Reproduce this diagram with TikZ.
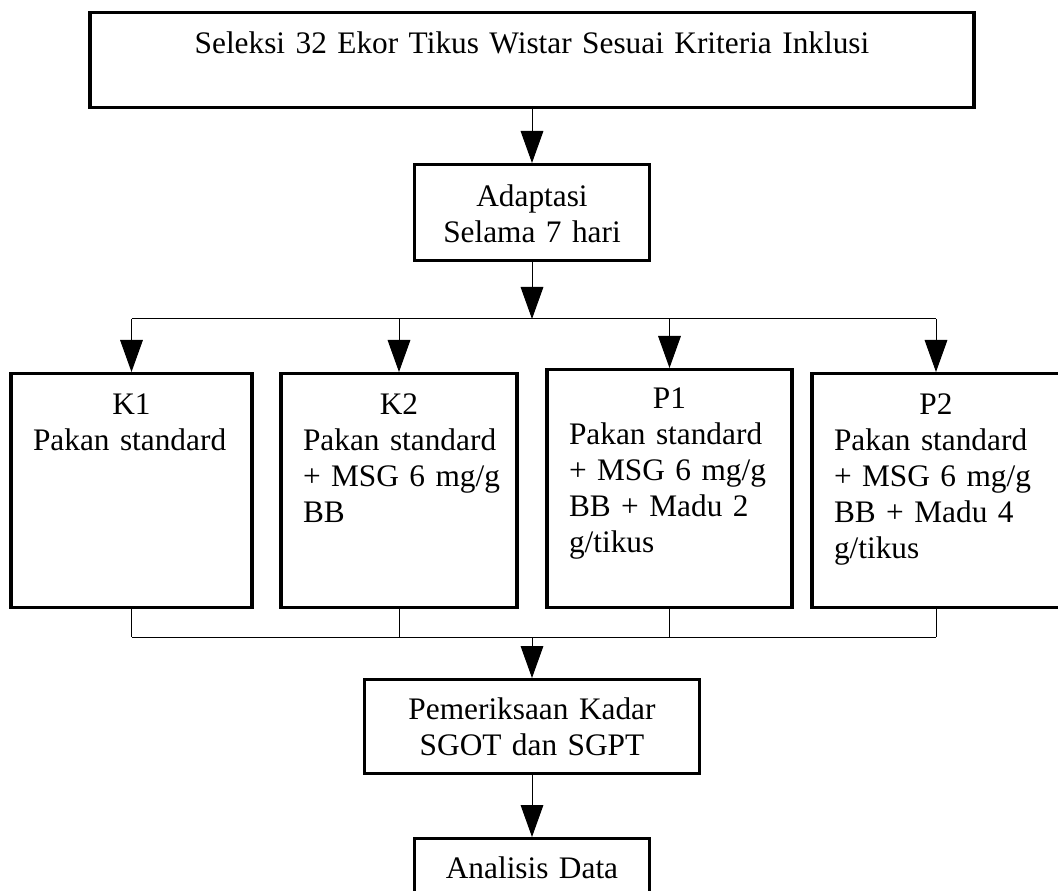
\documentclass[tikz,border=0pt]{standalone}
\usepackage{fontspec}
\setmainfont{Liberation Serif}
\usetikzlibrary{arrows.meta}
\hyphenpenalty=10000

\begin{document}
\begin{tikzpicture}[x = .75pt, y = -.75pt]
		\tikzstyle{every node} = [font = \fontsize{23.5pt}{27pt}\selectfont]
		\tikzstyle{box} = [draw, line width = 2.5pt, inner sep = 0pt, anchor = north]
		\tikzstyle{mid} = [box, align = center, text height = 30pt, text depth = 40.5pt]
		\tikzstyle{grp} = [box, inner xsep = 16.5pt, text height = 30.75pt, text depth = 144.75pt]
		\tikzstyle{con} = [line width = .75pt]
		\tikzstyle{arr} = [con, -{Triangle[length = 24pt, width = 17pt]}]

		\useasboundingbox (0,0) rectangle (1058,891);

		% top and adaptation
		\node [mid, text width = 663pt, text height = 30.75pt] (seleksi) at (532,11) {Seleksi 32 Ekor Tikus Wistar Sesuai Kriteria Inklusi};
		\node [mid, text width = 176.25pt, text height = 31.5pt] (adaptasi) at (532,163) {Adaptasi\\Selama 7 hari};

		% the four groups
		\node [grp, text width = 147.75pt] (k1) at (131.5,372) {{\centering K1\par}\raggedright Pakan~standard};
		\node [grp, text width = 144pt] (k2) at (399,372) {{\centering K2\par}\raggedright Pakan~standard\\+~MSG~6~mg/g\\BB};
		\node [grp, text width = 150.75pt, text height = 29.25pt, text depth = 149.25pt] (p1) at (669.5,368) {{\centering P1\par}\raggedright Pakan~standard\\+~MSG~6~mg/g\\BB~+~Madu~2\\g/tikus};
		\node [grp, text width = 153pt] (p2) at (936,372) {{\centering P2\par}\raggedright Pakan~standard\\+~MSG~6~mg/g\\BB~+~Madu~4\\g/tikus};

		% check and analysis
		\node [mid, text width = 251.25pt] (periksa) at (532,678) {Pemeriksaan Kadar\\SGOT dan SGPT};
		\node [mid, text width = 176.25pt, text depth = 42pt] (analisis) at (532,837) {Analisis Data};

		\coordinate (split) at (532,319);
		\coordinate (merge) at (532,637);

		\draw [arr] (seleksi) -- (adaptasi);
		\draw [arr] (adaptasi) -- (split);
		\draw [con] (k1.north |- split) -- (p2.north |- split); %branch line
		\draw [con] (k1.south |- merge) -- (p2.south |- merge); %join line
		\foreach \g in {k1,k2,p1,p2}
		{
			\draw [arr] (\g.north |- split) -- (\g);
			\draw [con] (\g) -- (\g.south |- merge);
		}
		\draw [arr] (merge) -- (periksa);
		\draw [arr] (periksa) -- (analisis);
	\end{tikzpicture}
\end{document}
